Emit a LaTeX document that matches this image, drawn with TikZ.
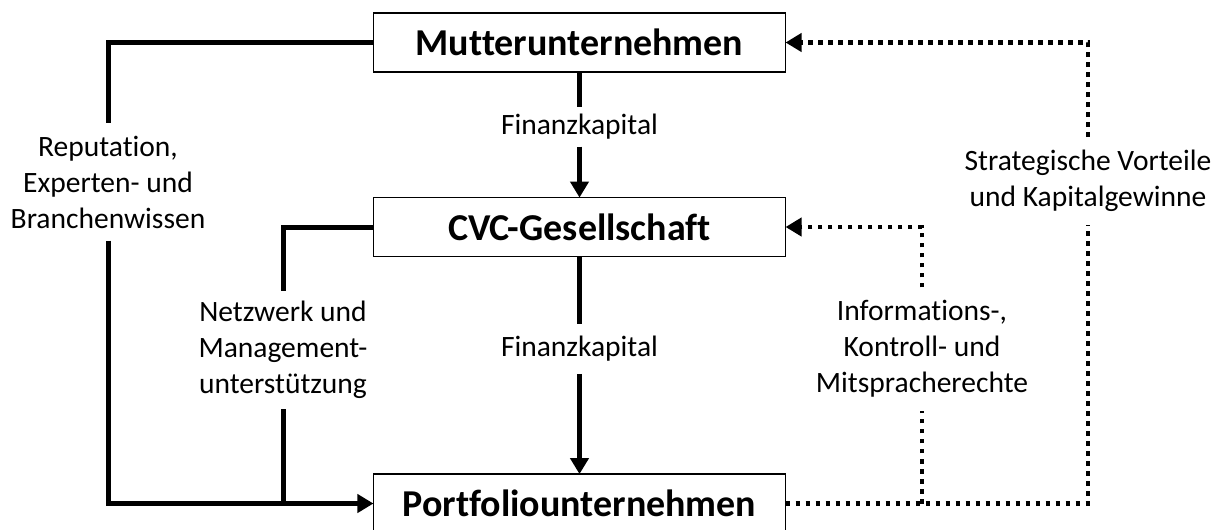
\documentclass[tikz,border=0pt]{standalone}
\usepackage{fontspec}
\setmainfont{Carlito}[Ligatures=NoCommon]
\usetikzlibrary{arrows.meta}

\tikzset{
    box/.style={draw, line width=0.04cm, minimum width=10.3cm, minimum height=1.47cm,
        inner sep=0pt, outer sep=0pt, font=\fontsize{27}{32}\selectfont\bfseries},
    lbl/.style={align=center, inner xsep=0pt, inner ysep=0.32cm,
        font=\fontsize{21}{25.6}\selectfont},
    fat/.style={line width=0.125cm},
    dots/.style={line width=0.12cm, dash pattern=on 0.12cm off 0.13cm},
    tip/.style={-{Triangle[length=0.4cm,width=0.45cm]}}
}

\begin{document}
\begin{tikzpicture}[x=0.025cm, y=-0.025cm]%% start picture
            \useasboundingbox (0, 0) rectangle (1217, 529);
            
            
                \node[box] (mutter) at (579.5, 42.5){Mutterunternehmen};
                \node[box] (cvc) at (579.5, 227){CVC-Gesellschaft};
                \node[box] (portfolio) at (579.5, 503.5){Portfoliounternehmen};
            
            
                \node[lbl, inner ysep=0.17cm] (fin1) at (579.5, 127){Finanzkapital};
                \node[lbl, inner ysep=0.3cm] (fin2) at (579.5, 349){Finanzkapital};
                \node[lbl, inner ysep=0.3cm] (rep) at (108, 182){Reputation,\\Experten- und\\Branchenwissen};
                \node[lbl, inner ysep=0.25cm] (net) at (283, 350){Netzwerk und\\Management-\\unterst\"utzung};
                \node[lbl] (strat) at (1088, 181){Strategische Vorteile\\und Kapitalgewinne};
                \node[lbl] (info) at (922, 349){Informations-,\\Kontroll- und\\Mitspracherechte};
            
            
                %% solid flows
                \draw[fat] (mutter.south) to (fin1.north);
                    \draw[fat, tip] (fin1.south) to (cvc.north);
                \draw[fat] (cvc.south) to (fin2.north);
                    \draw[fat, tip] (fin2.south) to (portfolio.north);
                \draw[fat] (mutter.west) -| (rep.north);
                    \draw[fat, tip] (rep.south) |- (portfolio.west);
                \draw[fat] (cvc.west) -| (net.north);
                    \draw[fat] (net.south) to (net.south |- portfolio.west);
            
            
                %% dotted flows back
                \draw[dots] (portfolio.east) -| (strat.south);
                    \draw[dots, tip] (strat.north) |- (mutter.east);
                \draw[dots] (info.south |- portfolio.east) to (info.south);
                    \draw[dots, tip] (info.north) |- (cvc.east);
               
            \end{tikzpicture}
\end{document}
